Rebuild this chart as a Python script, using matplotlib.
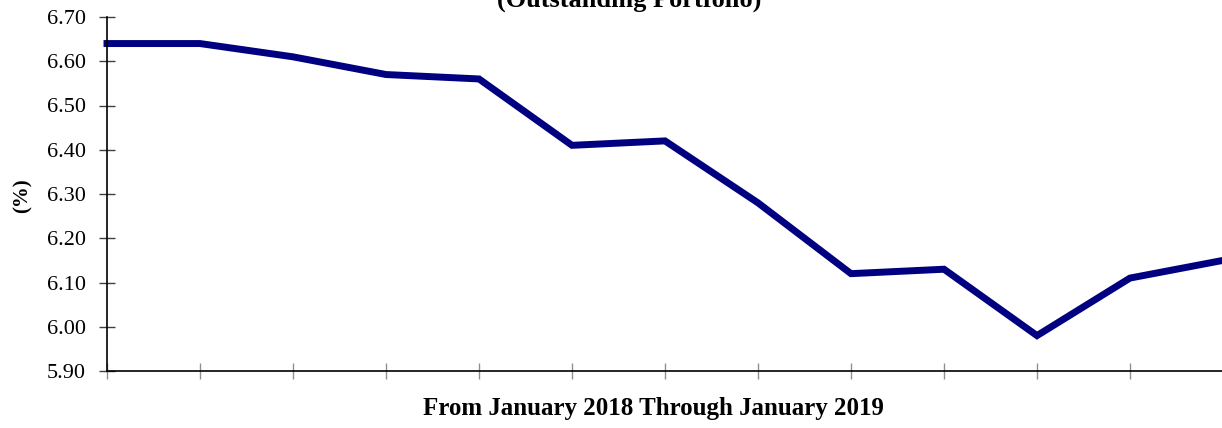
import matplotlib.pyplot as plt
import numpy as np

months = ['Jan 2018', 'Feb 2018', 'Mar 2018', 'Apr 2018', 'May 2018', 'Jun 2018',
          'Jul 2018', 'Aug 2018', 'Sep 2018', 'Oct 2018', 'Nov 2018', 'Dec 2018', 'Jan 2019']
rates = [6.64, 6.64, 6.61, 6.57, 6.56, 6.41, 6.42, 6.28, 6.12, 6.13, 5.98, 6.11, 6.15]
yticks = [5.90, 6.00, 6.10, 6.20, 6.30, 6.40, 6.50, 6.60, 6.70]

plt.rcParams['font.family'] = ['Liberation Serif', 'DejaVu Serif']

fig = plt.figure(figsize=(12.22, 4.28), dpi=100)
ax = fig.add_axes([107 / 1222, 1 - 371 / 428, (1223 - 107) / 1222, (371 - 17) / 428])

x = np.arange(len(months))
ax.plot(x, rates, color='#000080', lw=5, solid_joinstyle='miter', clip_on=False)

ax.set_xlim(0, len(months) - 1)
ax.set_ylim(5.90, 6.70)
ax.set_yticks(yticks)
ax.set_yticklabels([f'{v:.2f}' for v in yticks], fontsize=16)
ax.set_xticks(x[:-1])
ax.set_xticklabels([])
ax.tick_params(axis='both', direction='inout', length=12, width=1, color='#909090', pad=9)
ax.tick_params(axis='y', color='#404040')

for s in ['top', 'right']:
    ax.spines[s].set_visible(False)
ax.spines['left'].set_linewidth(1.2)
ax.spines['bottom'].set_linewidth(1.2)

ax.set_ylabel('(%)', fontsize=15, fontweight='bold', va='center')
ax.yaxis.set_label_coords((23 - 107) / 1116, (371 - 196) / 354)
ax.set_xlabel('From January 2018 Through January 2019', fontsize=18, fontweight='bold', va='center')
ax.xaxis.set_label_coords((653 - 107) / 1116, (371 - 409) / 354)

fig.text(629 / 1222, 1 - 7 / 428, '(Outstanding Portfolio)', ha='center', va='baseline',
         fontsize=19, fontweight='bold')

fig.savefig('out.png', dpi=100)
